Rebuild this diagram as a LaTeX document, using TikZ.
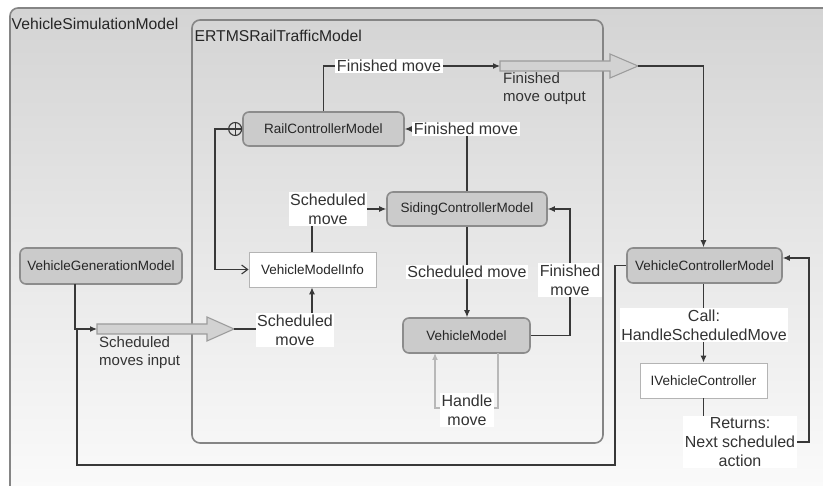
\documentclass[tikz,border=0pt]{standalone}
\usepackage{fontspec}
\setmainfont{Liberation Sans}
\usetikzlibrary{arrows.meta}
\definecolor{bgtop}{HTML}{D4D4D4}
\definecolor{bgbot}{HTML}{FBFBFB}
\definecolor{boxline}{HTML}{858585}
\definecolor{modfill}{HTML}{CBCBCB}
\definecolor{modline}{HTML}{8C8C8C}
\definecolor{ifline}{HTML}{B4B4B4}
\definecolor{conline}{HTML}{383838}
\definecolor{bigfill}{HTML}{D2D2D2}
\definecolor{bigline}{HTML}{9C9C9C}
\definecolor{faint}{HTML}{B8B8B8}
\begin{document}
\begin{tikzpicture}[x=1pt,y=-1pt,
  model/.style={draw=modline, line width=1.6pt, rounded corners=6pt, fill=modfill,
    font=\fontsize{13.5}{16}\selectfont, inner sep=0pt, text=black!85},
  iface/.style={draw=ifline, line width=0.9pt, fill=white,
    font=\fontsize{13.5}{16}\selectfont, inner sep=0pt, text=black!85},
  lbl/.style={fill=white, inner sep=1.5pt, align=center,
    font=\fontsize{16}{19}\selectfont, text=black!80},
  plainlbl/.style={inner sep=0pt, align=left,
    font=\fontsize{15}{18.5}\selectfont, text=black!80},
  title/.style={inner sep=0pt, anchor=west, font=\fontsize{15.7}{18}\selectfont, text=black!85},
  conn/.style={draw=conline, line width=1.1pt},
  arr/.style={conn, -{Latex[length=7pt,width=6pt]}},
  openarr/.style={conn, -{Straight Barb[length=6pt,width=9pt]}},
  faintarr/.style={draw=faint, line width=1.1pt, -{Latex[length=7pt,width=6pt]}},
  bigarrow/.style={draw=bigline, line width=1.1pt, fill=bigfill, line join=miter},
  container/.style={draw=boxline, line width=1.6pt, rounded corners=8pt}
]
\clip (0,0) rectangle (823,486);
\fill[white] (0,0) rectangle (823,486);

% containers
\draw[container, top color=bgtop, bottom color=bgbot] (10,8) rectangle (845,500);
\node[title] (simtitle) at (11.5,24) {VehicleSimulationModel};
\draw[container] (192,20) rectangle (603,443);
\node[title] (erttitle) at (194.5,36) {ERTMSRailTrafficModel};

% nodes
\node[model, minimum width=161pt, minimum height=34pt] (rcm) at (323.5,129) {RailControllerModel};
\node[model, minimum width=160pt, minimum height=34pt] (scm) at (467,209) {SidingControllerModel};
\node[model, minimum width=127pt, minimum height=35pt] (vm) at (466.5,335.5) {VehicleModel};
\node[iface, minimum width=127pt, minimum height=35pt] (vmi) at (312.5,269.5) {VehicleModelInfo};
\node[model, minimum width=162pt, minimum height=36pt] (vgm) at (101,266) {VehicleGenerationModel};
\node[model, minimum width=155pt, minimum height=35pt] (vcm) at (704.5,265.5) {VehicleControllerModel};
\node[iface, minimum width=127pt, minimum height=35pt] (ivc) at (703.5,380.5) {IVehicleController};

% big hollow arrows
\coordinate (fmoS) at (500,66);
\coordinate (fmoT) at (638,66);
\draw[bigarrow] (500,61) -- (610,61) -- (610,54) -- (fmoT) -- (610,78) -- (610,71) -- (500,71) -- cycle;
\node[plainlbl, anchor=north west] (fmolbl) at (503,72) {Finished\\move output};

\coordinate (smiS) at (97,329);
\coordinate (smiT) at (234,329);
\draw[bigarrow] (97,324) -- (207,324) -- (207,317) -- (smiT) -- (207,341) -- (207,334) -- (97,334) -- cycle;
\node[plainlbl, anchor=north west] (smilbl) at (99,336) {Scheduled\\moves input};

% containment symbol
\node[circle, draw=conline, line width=1.1pt, minimum size=13pt, inner sep=0pt, anchor=east] (plus) at (rcm.west) {};
\draw[conn] (plus.north) -- (plus.south) (plus.west) -- (plus.east);

% connectors
\coordinate (c1) at (323.5,66);
\draw[arr] (rcm.north) -- (c1) -- (fmoS);
\node[lbl] (l1) at (389,66) {Finished move};

\coordinate (c2) at (703.5,66);
\draw[arr] (fmoT) -- (c2) -- (vcm.north -| c2);

\coordinate (c3) at (467,129);
\draw[arr] (scm.north) -- (c3) -- (rcm.east);
\node[lbl] (l3) at (466,129) {Finished move};

\coordinate (c4) at (312,209);
\draw[arr] (vmi.north -| c4) -- (c4) -- (scm.west);
\node[lbl] (l4) at (328,209) {Scheduled\\move};

\coordinate (c5a) at (215,129);
\coordinate (c5b) at (215,269.5);
\draw[openarr] (plus.west) -- (c5a) -- (c5b) -- (vmi.west);

\coordinate (c6a) at (75,284);
\coordinate (c6b) at (75,329);
\draw[arr] (c6a) -- (c6b) -- (smiS);

\coordinate (c7a) at (615,265.5);
\coordinate (c7b) at (615,465);
\coordinate (c7c) at (77,465);
\coordinate (c7d) at (77,329);
\draw[conn] (vcm.west) -- (c7a) -- (c7b) -- (c7c) -- (c7d);

\coordinate (c8) at (312,329);
\draw[arr] (smiT) -- (c8) -- (vmi.south -| c8);
\node[lbl] (l8) at (295,330) {Scheduled\\move};

\draw[arr] (scm.south) -- (vm.north -| scm.south);
\node[lbl] (l9) at (467,272) {Scheduled move};

\coordinate (c10a) at (570,335.5);
\coordinate (c10b) at (570,209);
\draw[arr] (vm.east) -- (c10a) -- (c10b) -- (scm.east);
\node[lbl] (l10) at (570,280) {Finished\\move};

\coordinate (c11a) at (498,353);
\coordinate (c11b) at (498,408);
\coordinate (c11c) at (435,408);
\coordinate (c11d) at (435,353);
\draw[faintarr] (c11a) -- (c11b) -- (c11c) -- (c11d);
\node[lbl] (l11) at (467,410) {Handle\\move};

\draw[arr] (vcm.south -| ivc.north) -- (ivc.north);
\node[lbl] (l12) at (704,325) {Call:\\HandleScheduledMove};

\coordinate (c13a) at (703.5,442);
\coordinate (c13b) at (809,442);
\coordinate (c13c) at (809,258);
\draw[arr] (ivc.south) -- (c13a) -- (c13b) -- (c13c) -- (c13c -| vcm.east);
\node[lbl] (l13) at (740,442) {Returns:\\Next scheduled\\action};
\end{tikzpicture}
\end{document}
